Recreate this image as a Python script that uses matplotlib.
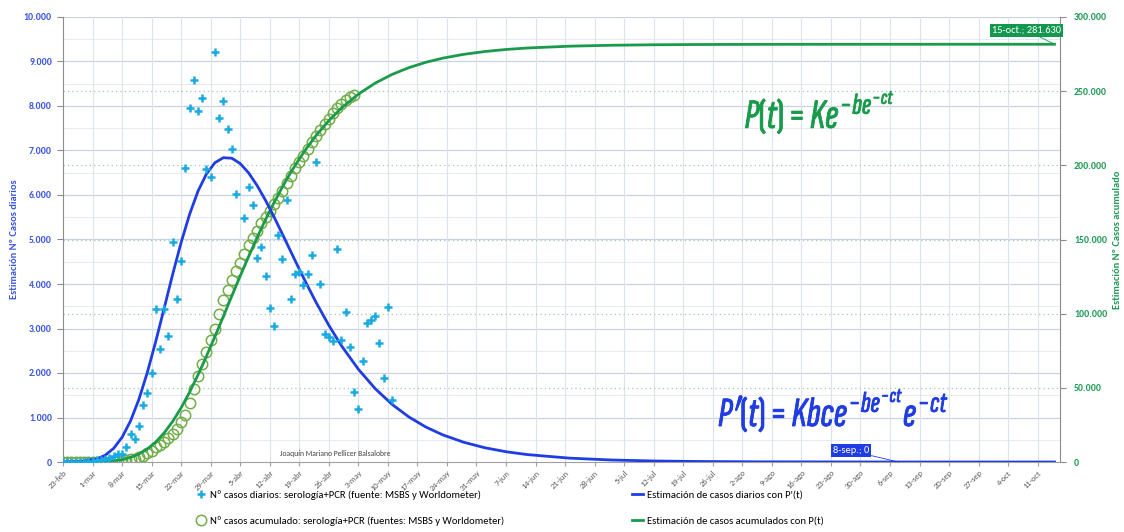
import matplotlib
matplotlib.use('Agg')
import matplotlib.pyplot as plt
import matplotlib.transforms as mtransforms
import matplotlib.patheffects as pe
from matplotlib import font_manager as fm
from matplotlib.lines import Line2D

# ---------------- data ----------------
date_labels = ["23-feb", "1-mar", "8-mar", "15-mar", "22-mar", "29-mar", "5-abr", "12-abr",
               "19-abr", "26-abr", "3-may", "10-may", "17-may", "24-may", "31-may", "7-jun",
               "14-jun", "21-jun", "28-jun", "5-jul", "12-jul", "19-jul", "26-jul", "2-ago",
               "9-ago", "16-ago", "23-ago", "30-ago", "6-sep", "13-sep", "20-sep", "27-sep",
               "4-oct", "11-oct"]

# daily cases (day 0 = 23-feb)
daily_cases = [0, 0, 0, 0, 0, 10, 20, 30, 40, 50,
               70, 100, 130, 170, 170, 330, 640, 510, 820, 1270,
               1550, 2010, 3430, 2550, 3430, 2830, 4950, 3660, 4520, 6610,
               7950, 8580, 7890, 8190, 6580, 6410, 9220, 7740, 8110, 7480,
               7040, 6030, None, 5490, 6190, 5770, 4580, 4840, 4180, 3470,
               3050, 5110, 4560, 5890, 3660, 4220, 4270, 3970, 4220, 4660,
               6750, 4010, 2880, 2820, 2730, 4780, 2740, 3360, 2590, 1570,
               1190, 2270, 3120, 3180, 3270, 2670, 1880, 3490, 1390]

# cumulative cases (day 0 = 23-feb)
cum_cases = [0, 0, 0, 0, 0, 50, 100, 100, 150, 200,
             250, 300, 400, 500, 700, 1200, 1700, 2300, 3100, 4300,
             5800, 7600, 9900, 11600, 13800, 16500, 18800, 22500, 27000, 32000,
             40000, 49000, 58000, 66000, 74000, 82000, 90000, 100000, 109000, 116000,
             123000, 129000, 134000, 140000, 146000, 151000, 156000, 161000, 165500, 169500,
             174000, 178000, 183000, 188000, 193000, 198000, 202000, 206000, 211000, 216000,
             220000, 224000, 228000, 231000, 235000, 238500, 241500, 244000, 246000, 247500]

# fitted curves
fit_days = [0, 4, 8, 10, 12, 14, 16, 18, 20, 22, 24, 26, 28, 30, 32, 34, 36, 38, 40, 42,
            44, 46, 48, 50, 52, 54, 56, 58, 60, 63, 66, 70, 74, 78, 82, 86, 90, 95, 100,
            105, 110, 120, 130, 140, 150, 165, 180, 198, 215, 235]
fit_daily = [1, 9, 67, 152, 306, 555, 921, 1410, 2017, 2715, 3464, 4220, 4934, 5565, 6087,
             6474, 6725, 6838, 6827, 6707, 6496, 6214, 5880, 5511, 5122, 4726, 4333, 3951,
             3584, 3073, 2612, 2085, 1648, 1294, 1011, 786, 610, 443, 320, 231, 167, 87, 45,
             23, 12, 4, 2, 0, 0, 0]
fit_cum = [1, 13, 133, 343, 787, 1631, 3087, 5393, 8806, 13527, 19700, 27394, 36556, 47061,
           58748, 71309, 84546, 98120, 111807, 125353, 138562, 151320, 163402, 174780,
           185425, 195283, 204351, 212631, 220150, 230120, 238655, 248003, 255440, 261297,
           265887, 269464, 272252, 274842, 276730, 278110, 279095, 280319, 280952, 281280,
           281449, 281563, 281605, 281622, 281628, 281630]

left_ticks = [0, 1000, 2000, 3000, 4000, 5000, 6000, 7000, 8000, 9000, 10000]
right_ticks = [0, 50000, 100000, 150000, 200000, 250000, 300000]

# ---------------- style ----------------
BLUE = '#1f3de3'
CYAN = '#19a9e3'
GREEN = '#1a9b4c'
OLIVE = '#72ae48'
BLUE_TXT = '#3b55e0'
GREEN_TXT = '#1f9a55'

names = {f.name for f in fm.fontManager.ttflist}
main_fonts = [n for n in ['Carlito', 'Lato'] if n in names] + ['DejaVu Sans']
plt.rcParams['font.family'] = main_fonts

math_font = next((n for n in ['Sofia Sans Extra Condensed', 'Barlow Condensed',
                              'Fira Sans Extra Condensed', 'Archivo Narrow']
                  if n in names), 'DejaVu Sans')
plt.rcParams['mathtext.fontset'] = 'custom'
plt.rcParams['mathtext.it'] = math_font + ':italic:bold'
plt.rcParams['mathtext.rm'] = math_font + ':bold'
plt.rcParams['mathtext.bf'] = math_font + ':bold'

def fmt(v):
    return f"{v:,}".replace(',', '.')

fig = plt.figure(figsize=(11.24, 5.32), dpi=100)
ax1 = fig.add_axes([63 / 1124, 1 - 462 / 532, 997 / 1124, 445 / 532])
ax2 = ax1.twinx()
ax1.set_zorder(ax2.get_zorder() + 1)
ax1.patch.set_visible(False)

ax1.set_xlim(0, 236.3)
ax1.set_ylim(0, 10000)
ax2.set_ylim(0, 300000)

week_pos = [7 * i for i in range(len(date_labels))]

# gridlines (drawn on the bottom layer)
blend = mtransforms.blended_transform_factory(ax2.transAxes, ax1.transData)
for v in range(500, 10001, 500):
    major = v % 1000 == 0
    ax2.plot([0, 1], [v, v], transform=blend, color='#c9d2df' if major else '#e6eaf0',
             lw=0.9 if major else 0.7, zorder=0)
for p in week_pos[1:]:
    ax2.axvline(p, color='#dde3eb', lw=0.8, zorder=0)
for v in right_ticks[1:-1]:
    ax2.axhline(v, color='#9fc7b2', lw=0.9, ls=(0, (1, 2.5)), zorder=0.5)

# data
days_daily = list(range(len(daily_cases)))
days_cum = list(range(len(cum_cases)))
dvals = [float('nan') if v is None else v for v in daily_cases]
ax2.plot(days_cum, cum_cases, 'o', mfc='none', mec=OLIVE, ms=7.5, mew=1.1, zorder=2)
ax2.plot(fit_days, fit_cum, color=GREEN, lw=2.0, zorder=3)
ax1.plot(fit_days, fit_daily, color=BLUE, lw=2.0, zorder=3)
ax1.plot(days_daily, dvals, '+', color=CYAN, ms=6.3, mew=1.8, zorder=4)

# axes
ax1.set_xticks(week_pos)
ax1.set_xticklabels(date_labels, rotation=45, ha='right', rotation_mode='anchor',
                    fontsize=6, color='#595959')
ax1.tick_params(axis='x', length=3, color='#a0a0a0', pad=2)
ax1.set_yticks(left_ticks)
ax1.set_yticklabels([fmt(v) for v in left_ticks], fontsize=7, fontweight='bold', color=BLUE_TXT)
ax1.tick_params(axis='y', length=4, color='#8c8c8c', pad=4)
ax2.set_yticks(right_ticks)
ax2.set_yticklabels([fmt(v) for v in right_ticks], fontsize=7, fontweight='bold', color=GREEN_TXT)
ax2.tick_params(axis='y', length=4, color='#8c8c8c', pad=6)

for s in ['top', 'right']:
    ax1.spines[s].set_visible(False)
for s in ['top', 'left', 'bottom']:
    ax2.spines[s].set_visible(False)
ax1.spines['left'].set_color('#8c8c8c')
ax1.spines['bottom'].set_color('#a0a0a0')
ax2.spines['right'].set_color('#8c8c8c')

ax1.set_ylabel('Estimación Nº Casos diarios', fontsize=7.5, fontweight='bold', color=BLUE_TXT)
ax1.yaxis.set_label_coords(-0.044, 0.5)
ax2.set_ylabel('Estimación Nº Casos acumulado', fontsize=7.5, fontweight='bold', color=GREEN_TXT)
ax2.yaxis.set_label_coords(1.053, 0.5)

# annotations
ax2.annotate('15-oct.; 281.630', xy=(fit_days[-1], fit_cum[-1]), xytext=(-20, 10),
             textcoords='offset points', ha='center', va='center', fontsize=7.5, color='white',
             bbox=dict(boxstyle='square,pad=0.2', fc='#13994f', ec='none'),
             arrowprops=dict(arrowstyle='-', color='#13994f', lw=0.6, shrinkA=0, shrinkB=0))
ax1.annotate('8-sep.; 0', xy=(198, 0), xytext=(-34, 8),
             textcoords='offset points', ha='center', va='center', fontsize=7.5, color='white',
             bbox=dict(boxstyle='square,pad=0.2', fc=BLUE, ec='none'),
             arrowprops=dict(arrowstyle='-', color=BLUE, lw=0.6, shrinkA=0, shrinkB=0))

ax1.text(0.273, 0.02, 'Joaquín Mariano Pellicer Balsalobre', transform=ax1.transAxes,
         fontsize=5.5, color='#404040', ha='center', va='center')

ax1.text(0.759, 0.785, r"$P(t) = Ke^{-be^{-ct}}$", transform=ax1.transAxes, fontsize=30,
         color=GREEN, ha='center', va='center',
         path_effects=[pe.withStroke(linewidth=0.6, foreground=GREEN)])
ax1.text(0.773, 0.115, r"$P^{\prime}\!(t) = Kbce^{-be^{-ct}}e^{-ct}$", transform=ax1.transAxes,
         fontsize=30, color=BLUE, ha='center', va='center',
         path_effects=[pe.withStroke(linewidth=0.6, foreground=BLUE)])

# legend
handles = [Line2D([], [], ls='none', marker='+', color=CYAN, ms=6.3, mew=1.8),
           Line2D([], [], ls='none', marker='o', mfc='none', mec=OLIVE, ms=7.5, mew=1.1),
           Line2D([], [], color=BLUE, lw=2),
           Line2D([], [], color=GREEN, lw=2)]
labels = ['Nº casos diarios: serología+PCR (fuente: MSBS y Worldometer)',
          'Nº casos acumulado: serología+PCR (fuentes: MSBS y Worldometer)',
          "Estimación de casos diarios con P'(t)",
          "Estimación de casos acumulados con P(t)"]
fig.legend(handles, labels, ncol=2, loc='upper left', bbox_to_anchor=(0.170, 0.087),
           frameon=False, fontsize=7.7, columnspacing=11.9, handlelength=1.1,
           handletextpad=0.3, labelspacing=1.5, borderaxespad=0)

fig.savefig('out.png', dpi=100)
